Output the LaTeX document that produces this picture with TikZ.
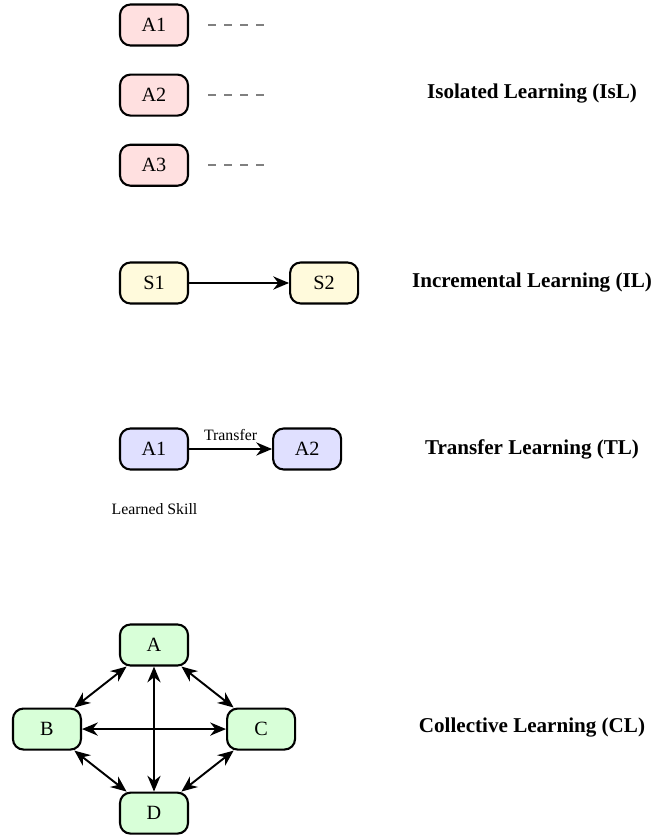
\documentclass[tikz,border=0pt]{standalone}
\usepackage{fontspec}
\setmainfont{Liberation Serif}
\usepackage{xcolor}
\definecolor{islpink}{RGB}{255,224,224}
\definecolor{ilyellow}{RGB}{255,250,220}
\definecolor{tlblue}{RGB}{224,224,255}
\definecolor{clgreen}{RGB}{216,255,216}
\usetikzlibrary{arrows.meta, positioning, calc}

\begin{document}
\begin{tikzpicture}[
          box/.style={draw=black, line width=1.2pt, rounded corners=6pt,
              minimum width=1.36cm, minimum height=0.82cm,
              font=\fontsize{11.5}{13}\selectfont,
              inner sep=2pt, align=center},
          arr/.style={-{Stealth[length=9pt, width=7.5pt]}, line width=1.1pt},
          biarr/.style={{Stealth[length=9pt, width=7.5pt]}-{Stealth[length=9pt, width=7.5pt]}, line width=1.1pt},
          faint/.style={gray, line width=1.1pt, dash pattern=on 4.7pt off 4.4pt},
          title/.style={font=\large\bfseries}
        ]
        \useasboundingbox (0,0) rectangle (13.02,-16.72);
        % isolated learning
        \node[box, fill=islpink] (isa) at (3.08,-0.5) {A1};
        \node[box, fill=islpink, below=0.54cm of isa] (isb) {A2};
        \node[box, fill=islpink, below=0.54cm of isb] (isc) {A3};
        \foreach \n in {isa,isb,isc} {
          \coordinate (\n-end) at ([xshift=1.5cm]\n.east);
          \draw[faint, shorten <=0.38cm] (\n.east) -- (\n-end);
        }
        \node[title] (isl) at (10.64,-1.88) {Isolated Learning (IsL)};
        % incremental learning
        \node[box, fill=ilyellow] (ils) at (3.08,-5.66) {S1};
        \node[box, fill=ilyellow, right=2cm of ils] (ilt) {S2};
        \draw[arr] (ils) -- (ilt);
        \node[title] (il) at (10.64,-5.66) {Incremental Learning (IL)};
        % transfer learning
        \node[box, fill=tlblue] (tla) at (3.08,-8.98) {A1};
        \node[box, fill=tlblue, right=1.66cm of tla] (tlb) {A2};
        \draw[arr] (tla) -- node[above=3pt, font=\small, inner sep=1pt] (tlx) {Transfer} (tlb);
        \node[font=\small] (skill) at (3.09,-10.18) {Learned Skill};
        \node[title] (tl) at (10.64,-8.98) {Transfer Learning (TL)};
        % collective learning
        \node[box, fill=clgreen] (cla) at (3.08,-12.9) {A};
        \node[box, fill=clgreen, below=2.5cm of cla] (cld) {D};
        \coordinate (clmid) at ($(cla)!0.5!(cld)$);
        \node[box, fill=clgreen, left=1.44cm of clmid] (clb) {B};
        \node[box, fill=clgreen, right=1.44cm of clmid] (clc) {C};
        \foreach \p/\q in {cla/cld, clb/clc, cla/clb, cla/clc, clb/cld, clc/cld}
          \draw[biarr] (\p) -- (\q);
        \node[title] (cl) at (10.64,-14.56) {Collective Learning (CL)};
      \end{tikzpicture}
\end{document}
